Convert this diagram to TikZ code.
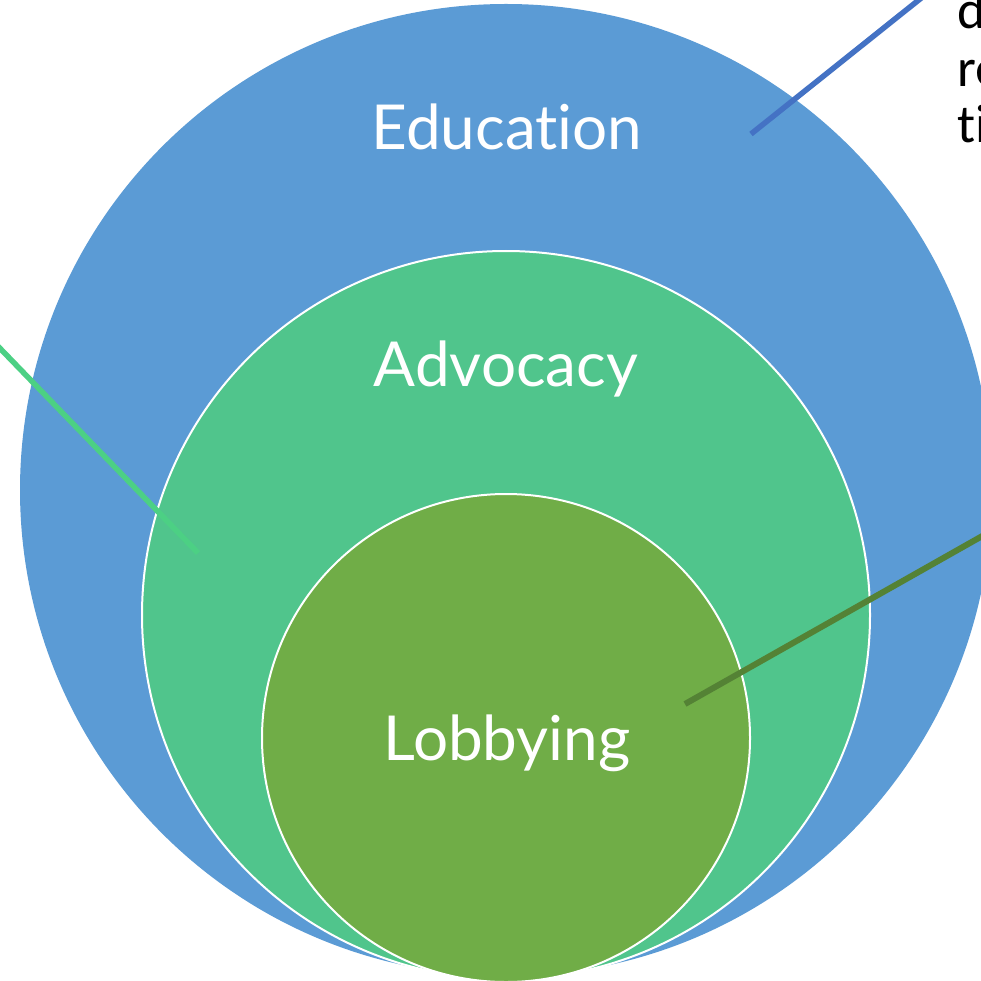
\documentclass[tikz,border=0pt]{standalone}
\usepackage{fontspec}
\setmainfont{Lato}[Ligatures={NoCommon,NoRare,NoContextual}]
\newfontfamily\calfont{Carlito}[Ligatures={NoCommon,NoRare,NoContextual}]
\definecolor{edublue}{HTML}{5B9BD5}
\definecolor{advgreen}{HTML}{50C58C}
\definecolor{lobgreen}{HTML}{70AD47}
\definecolor{lineblue}{HTML}{4472C4}
\definecolor{linegreen}{HTML}{4CD084}
\definecolor{linedark}{HTML}{548235}
\begin{document}
\begin{tikzpicture}[x=1pt,y=-1pt,
  ring/.style={circle,inner sep=0pt,outer sep=0pt},
  lbl/.style={text=white,font=\fontsize{62}{70}\selectfont,anchor=base,inner sep=0pt},
  callout/.style={line width=5.5pt},
  side/.style={font=\calfont\fontsize{54}{57}\selectfont,anchor=base west,inner sep=0pt}]
\useasboundingbox (0,0) rectangle (981,981);
\clip (0,0) rectangle (981,981);
\fill[white] (0,0) rectangle (981,981);
\node[ring,fill=edublue,minimum size=972pt] (edu) at (506,490) {};
\node[ring,fill=advgreen,draw=white,line width=2pt,minimum size=728pt] (adv) at (506,615) {};
\node[ring,fill=lobgreen,draw=white,line width=2pt,minimum size=488pt] (lob) at (506,738) {};
\node[lbl] (tedu) at (507,150) {Education};
\node[lbl] (tadv) at (506,386) {Advocacy};
\node[lbl] (tlob) at (507,760) {Lobbying};
\coordinate (pedu) at (751,134);
\coordinate (qedu) at (935,-13);
\coordinate (padv) at (198,553);
\coordinate (qadv) at (-10,338);
\coordinate (plob) at (685,704);
\coordinate (qlob) at (1000,526);
\draw[callout,lineblue] (pedu) -- (qedu);
\draw[callout,linegreen] (padv) -- (qadv);
\draw[callout,linedark,line width=6pt] (plob) -- (qlob);
\node[side] (note1) at (957,29) {d};
\node[side] (note2) at (957,87) {re};
\node[side] (note3) at (957,143) {ti};
\end{tikzpicture}
\end{document}
